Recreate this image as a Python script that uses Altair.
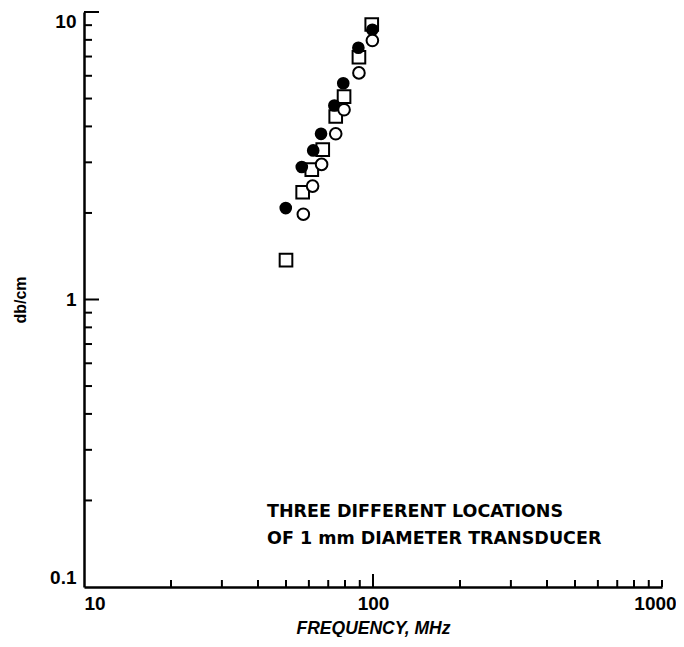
import altair as alt
import pandas as pd

# --- data ---
freq_filled = [49.9, 56.7, 62.1, 66.1, 73.5, 78.9, 89.0, 99.5]
db_filled = [2.08, 2.89, 3.30, 3.77, 4.73, 5.65, 7.51, 8.67]

freq_square = [50.0, 57.1, 61.4, 67.0, 74.3, 79.4, 89.4, 99.0]
db_square = [1.37, 2.36, 2.83, 3.32, 4.33, 5.08, 6.96, 9.05]

freq_open = [57.4, 61.8, 66.4, 74.3, 79.4, 89.4, 99.5]
db_open = [1.98, 2.48, 2.95, 3.77, 4.57, 6.14, 7.96]

x_labels = [10, 100, 1000]
y_labels = [0.1, 1, 10]
x_minor = [20, 30, 40, 50, 60, 70, 80, 90, 200, 300, 400, 500, 600, 700, 800, 900, 1000]
x_major = [100]
y_minor = [0.2, 0.3, 0.4, 0.5, 0.6, 0.7, 0.8, 0.9, 2, 3, 4, 5, 6, 7, 8, 9]
y_major = [1, 10]

note_line1 = ["THREE DIFFERENT LOCATIONS"]
note_line2 = ["OF 1 mm DIAMETER TRANSDUCER"]

FONT = "Liberation Sans"
NOTE_FONT = "DejaVu Sans"
W, H = 578, 575

xs = alt.Scale(type="log", domain=[10, 1000], nice=False)
ys = alt.Scale(type="log", domain=[0.1, 10], nice=False)

df_filled = pd.DataFrame({"f": freq_filled, "db": db_filled})
df_square = pd.DataFrame({"f": freq_square, "db": db_square})
df_open = pd.DataFrame({"f": freq_open, "db": db_open})

x_axis = alt.Axis(
    values=x_labels, format="~g", tickSize=0, grid=False,
    domainColor="black", domainWidth=2.5,
    labelFont=FONT, labelFontSize=19, labelFontWeight="bold", labelColor="black",
    labelPadding=7, labelFlush=False,
    labelAlign={"expr": "datum.value <= 10 ? 'left' : 'center'"},
    labelOffset={"expr": "datum.value >= 1000 ? -7 : 0"},
    title="FREQUENCY, MHz", titleFont=FONT, titleFontSize=17.5,
    titleFontWeight="bold", titleFontStyle="italic", titleColor="black",
    titlePadding=6,
)
y_axis = alt.Axis(
    values=y_labels, format="~g", tickSize=0, grid=False,
    domainColor="black", domainWidth=2.5,
    labelFont=FONT, labelFontSize=19, labelFontWeight="bold", labelColor="black",
    labelPadding=8, labelFlush=True,
    title="db/cm", titleFont=FONT, titleFontSize=16, titleFontWeight="bold",
    titleColor="black", titleX=-56, titleY=H / 2,
)

X = alt.X("f:Q", scale=xs, axis=x_axis)
Y = alt.Y("db:Q", scale=ys, axis=y_axis)

squares = alt.Chart(df_square).mark_point(
    shape="square", filled=True, fill="white", stroke="black", strokeWidth=2,
    size=160, opacity=1,
).encode(x=X, y=Y)

filled = alt.Chart(df_filled).mark_circle(color="black", size=160, opacity=1).encode(x=X, y=Y)

opens = alt.Chart(df_open).mark_point(
    shape="circle", filled=True, fill="white", stroke="black", strokeWidth=2,
    size=135, opacity=1,
).encode(x=X, y=Y)

xminor = alt.Chart(pd.DataFrame({"f": x_minor})).mark_rule(color="black", strokeWidth=2).encode(
    x=X, y=alt.value(H), y2=alt.value(H - 7),
)
xmajor = alt.Chart(pd.DataFrame({"f": x_major})).mark_rule(color="black", strokeWidth=2).encode(
    x=X, y=alt.value(H), y2=alt.value(H - 13),
)
yminor = alt.Chart(pd.DataFrame({"db": y_minor})).mark_rule(color="black", strokeWidth=2).encode(
    y=Y, x=alt.value(0), x2=alt.value(8),
)
ymajor = alt.Chart(pd.DataFrame({"db": y_major})).mark_rule(color="black", strokeWidth=2).encode(
    y=Y, x=alt.value(0), x2=alt.value(15),
)

note1 = alt.Chart(pd.DataFrame({"t": note_line1})).mark_text(
    align="left", baseline="middle", font=NOTE_FONT, fontSize=17.5, fontWeight="bold", color="black",
).encode(text="t:N", x=alt.value(183), y=alt.value(500))
note2 = alt.Chart(pd.DataFrame({"t": note_line2})).mark_text(
    align="left", baseline="middle", font=NOTE_FONT, fontSize=17.5, fontWeight="bold", color="black",
).encode(text="t:N", x=alt.value(183), y=alt.value(527))

chart = alt.layer(
    squares, xminor, xmajor, yminor, ymajor, filled, opens, note1, note2
).properties(
    width=W, height=H,
    autosize=alt.AutoSizeParams(type="none"),
    padding={"left": 76, "top": 4, "right": 14, "bottom": 50},
    background="white",
).configure_view(stroke=None)

chart.save("out.html", embed_options={"renderer": "svg", "actions": False})
